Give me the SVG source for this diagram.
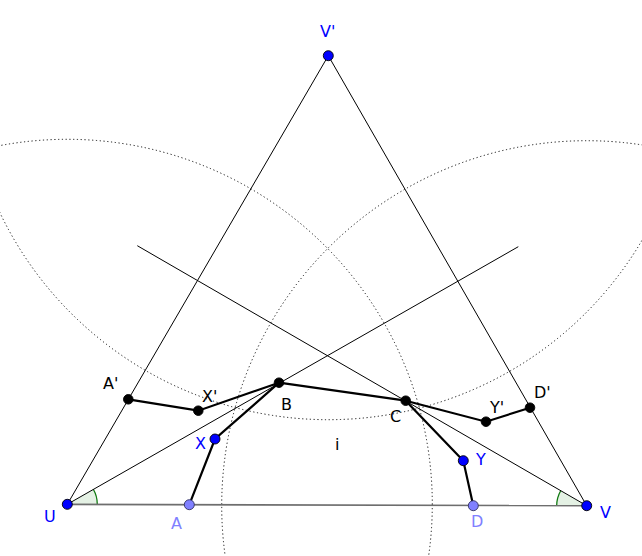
<svg xmlns="http://www.w3.org/2000/svg" width="642" height="556" viewBox="0 0 642 556">
<style>
.bg{fill:#ffffff}
.circ{fill:none;stroke:#111;stroke-width:1;stroke-dasharray:1.2 2.6}
.thin{stroke:#000;stroke-width:1;fill:none}
.base{stroke:#6e6e6e;stroke-width:1.7;fill:none}
.thick{stroke:#000;stroke-width:2.2;fill:none;stroke-linecap:round}
.sector{fill:#e4f1e4;stroke:none}
.arc{fill:none;stroke:#117a11;stroke-width:1.3}
.pb{fill:#0000ff;stroke:#000;stroke-width:0.9}
.pl{fill:#8080ff;stroke:#303060;stroke-width:0.9}
.pk{fill:#000;stroke:#000;stroke-width:0.9}
text{font-family:"DejaVu Sans","Liberation Sans",sans-serif;font-size:16px}
.lb{fill:#0000ff}
.ll{fill:#8080ff}
.lk{fill:#000}
</style>
<rect class="bg" x="0" y="0" width="642" height="556"/>
<g id="circles">
<circle class="circ" cx="67.3" cy="504.3" r="365"/>
<circle class="circ" cx="586.7" cy="505.7" r="365"/>
<circle class="circ" cx="328.3" cy="55.7" r="364"/>
</g>
<g id="angles">
<path class="sector" d="M67.3,504.3 L97.3,504.4 A30,30 0 0,0 93.3,489.3 Z"/>
<path class="arc" d="M97.3,504.4 A30,30 0 0,0 93.3,489.3"/>
<path class="sector" d="M586.7,505.7 L560.7,490.7 A30,30 0 0,0 556.7,505.6 Z"/>
<path class="arc" d="M560.7,490.7 A30,30 0 0,0 556.7,505.6"/>
</g>
<g id="connectors">
<line class="base" x1="67.3" y1="504.3" x2="586.7" y2="505.7"/>
<line class="thin" x1="67.3" y1="504.3" x2="328.3" y2="55.7"/>
<line class="thin" x1="586.7" y1="505.7" x2="328.3" y2="55.7"/>
<line class="thin" x1="67.3" y1="504.3" x2="518.3" y2="246.7"/>
<line class="thin" x1="586.7" y1="505.7" x2="137.3" y2="245.7"/>
<polyline class="thick" points="189.3,504.7 215,439 279,382.7 198.3,410.7 128.3,399.3"/>
<line class="thick" x1="279" y1="382.7" x2="405.7" y2="400.7"/>
<polyline class="thick" points="473.3,505.7 463.3,460.7 405.7,400.7 486,421.7 530,407.7"/>
</g>
<g id="node-U"><circle class="pb" cx="67.3" cy="504.3" r="5"/><text class="lb" x="44" y="522">U</text></g>
<g id="node-V"><circle class="pb" cx="586.7" cy="505.7" r="5"/><text class="lb" x="600" y="518">V</text></g>
<g id="node-Vp"><circle class="pb" cx="328.3" cy="55.7" r="5"/><text class="lb" x="320" y="37">V'</text></g>
<g id="node-A"><circle class="pl" cx="189.3" cy="504.7" r="5"/><text class="ll" x="171" y="529">A</text></g>
<g id="node-D"><circle class="pl" cx="473.3" cy="505.7" r="5"/><text class="ll" x="471" y="527">D</text></g>
<g id="node-X"><circle class="pb" cx="215" cy="439" r="5"/><text class="lb" x="195" y="449">X</text></g>
<g id="node-Y"><circle class="pb" cx="463.3" cy="460.7" r="5"/><text class="lb" x="476" y="465">Y</text></g>
<g id="node-B"><circle class="pk" cx="279" cy="382.7" r="4.8"/><text class="lk" x="281" y="410">B</text></g>
<g id="node-C"><circle class="pk" cx="405.7" cy="400.7" r="4.8"/><text class="lk" x="390" y="422">C</text></g>
<g id="node-Ap"><circle class="pk" cx="128.3" cy="399.3" r="4.8"/><text class="lk" x="103" y="389">A'</text></g>
<g id="node-Xp"><circle class="pk" cx="198.3" cy="410.7" r="4.8"/><text class="lk" x="202" y="402">X'</text></g>
<g id="node-Yp"><circle class="pk" cx="486" cy="421.7" r="4.8"/><text class="lk" x="490" y="413">Y'</text></g>
<g id="node-Dp"><circle class="pk" cx="530" cy="407.7" r="4.8"/><text class="lk" x="534" y="398">D'</text></g>
<g id="label-i"><text class="lk" x="335" y="450">i</text></g>
</svg>
